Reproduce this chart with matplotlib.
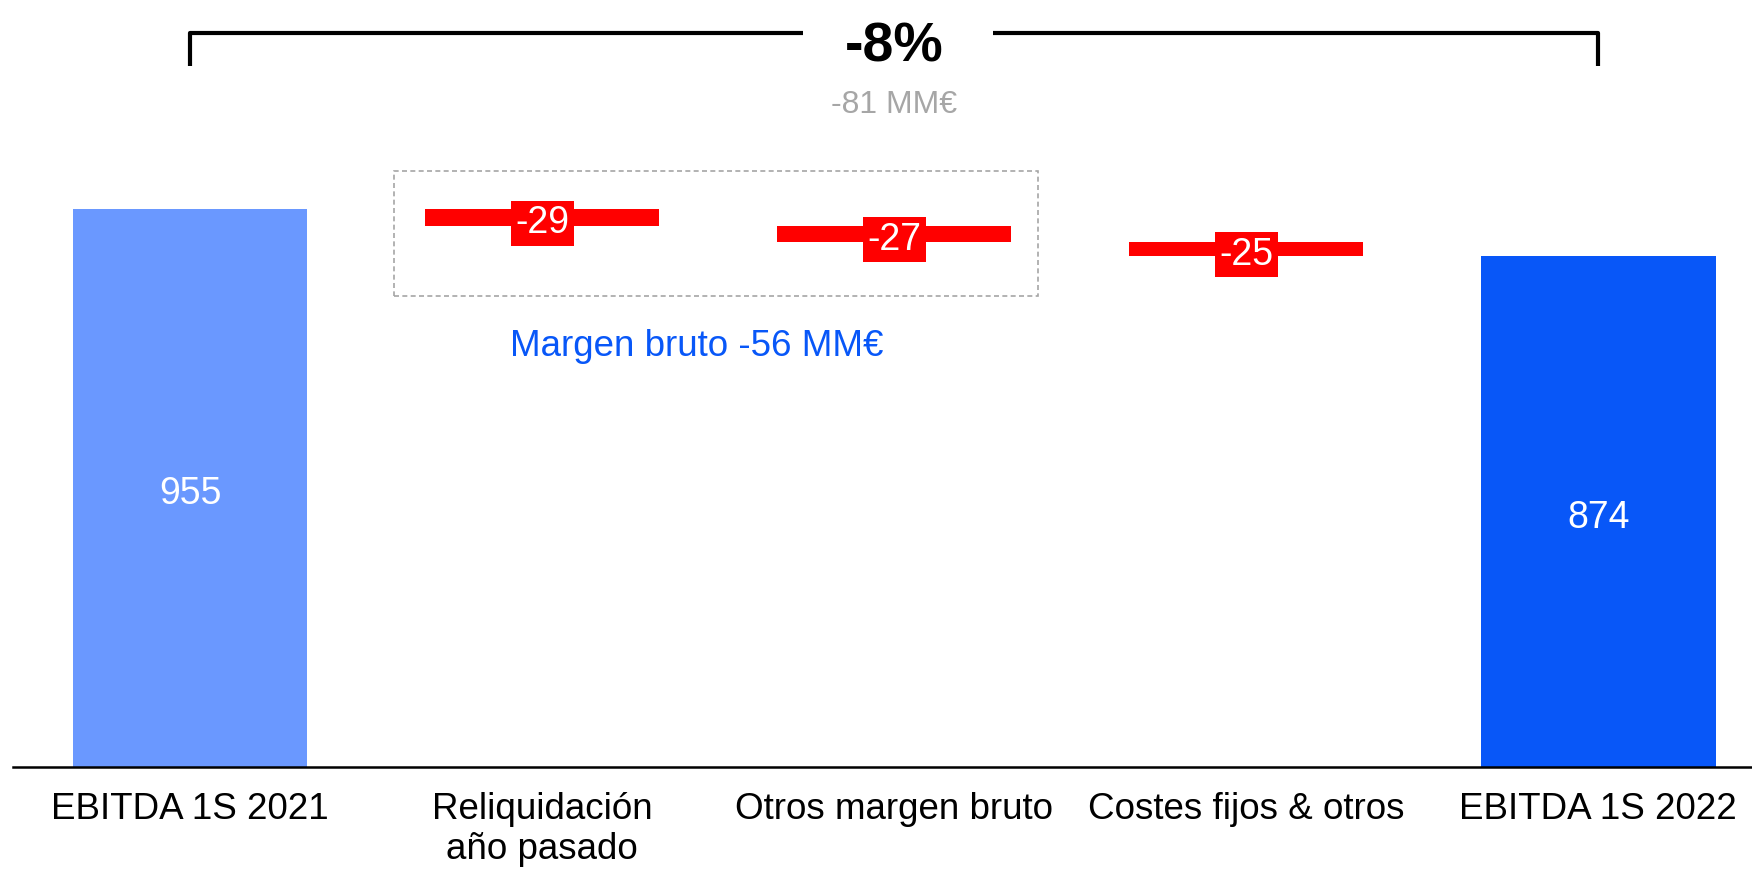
import matplotlib.pyplot as plt
from matplotlib.patches import Rectangle
import numpy as np

plt.rcParams['font.family'] = ['Liberation Sans', 'DejaVu Sans']

categories = ['EBITDA 1S 2021', 'Reliquidación\naño pasado', 'Otros margen bruto',
              'Costes fijos & otros', 'EBITDA 1S 2022']
start_value = 955
deltas = [-29, -27, -25]
end_value = 874
total_change_pct = '-8%'
total_change_abs = '-81 MM€'
group_label = 'Margen bruto -56 MM€'

light_blue = '#6a98ff'
dark_blue = '#0857f8'
red = '#ff0000'

fig = plt.figure(figsize=(17.52, 8.69), dpi=100)
ax = fig.add_axes([13 / 1752, 102 / 869, 1 - 13 / 1752, 767 / 869])

x = np.arange(len(categories))
w = 2 / 3

# totals
ax.bar(x[0], start_value, width=w, color=light_blue)
ax.bar(x[-1], end_value, width=w, color=dark_blue)
ax.text(x[0], start_value / 2 - 4, str(start_value), color='white', fontsize=27,
        ha='center', va='center_baseline')
ax.text(x[-1], end_value / 2 - 4, str(end_value), color='white', fontsize=27,
        ha='center', va='center_baseline')

# floating deltas
running = start_value
for i, d in enumerate(deltas):
    xi = x[i + 1]
    ax.bar(xi, abs(d), bottom=running + d, width=w, color=red)
    ax.text(xi, running + d / 2 - 3, str(d), color='white', fontsize=27, ha='center',
            va='center_baseline',
            bbox=dict(boxstyle='square,pad=0.12', fc=red, ec='none'))
    running += d

# dashed box around gross margin items
ax.add_patch(Rectangle((0.58, 806), 2.41 - 0.58, 1020 - 806, fill=False,
                       ec='#a6a6a6', lw=1.2, ls=(0, (3, 2))))
ax.text(1.44, 726, group_label, color=dark_blue, fontsize=26.5,
        ha='center', va='center_baseline')

# bracket on top
ax.plot([0, 0, 1.74], [1200, 1256, 1256], color='black', lw=3,
        solid_joinstyle='round', solid_capstyle='butt', clip_on=False)
ax.plot([2.28, 4.0, 4.0], [1256, 1256, 1200], color='black', lw=3,
        solid_joinstyle='round', solid_capstyle='butt', clip_on=False)
ax.text(2, 1242, total_change_pct, fontsize=40, fontweight='bold',
        ha='center', va='center_baseline')
ax.text(2, 1139, total_change_abs, fontsize=23, color='#a6a6a6',
        ha='center', va='center_baseline')

ax.set_xlim(-0.503, 4.437)
ax.set_ylim(0, 1313)
ax.set_xticks(x)
ax.set_xticklabels(categories, fontsize=26.5)
ax.tick_params(axis='x', length=0, pad=18)
ax.set_yticks([])
for s in ['top', 'right', 'left']:
    ax.spines[s].set_visible(False)
ax.spines['bottom'].set_linewidth(1.8)

fig.savefig('out.png', dpi=100)
